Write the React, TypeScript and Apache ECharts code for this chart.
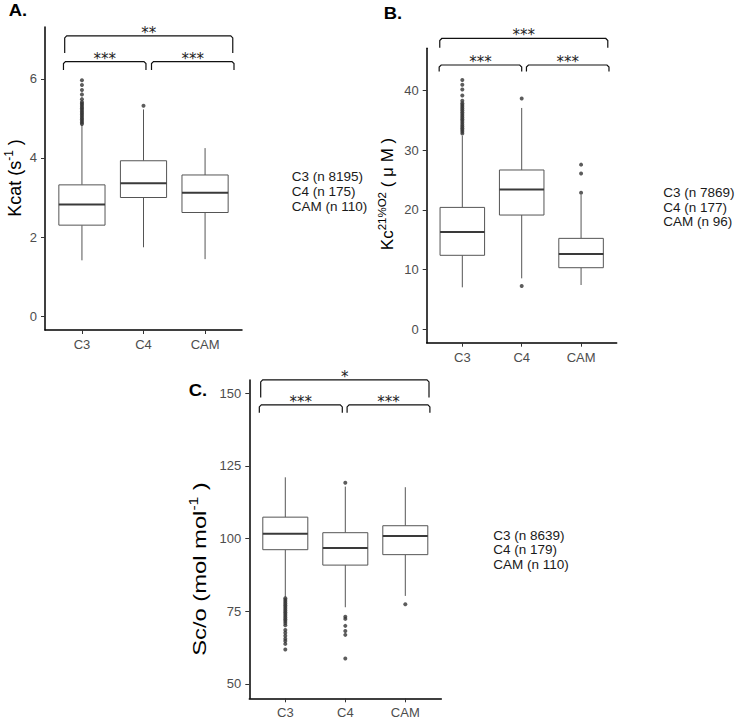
import React, { useEffect, useRef } from 'react';
import * as echarts from 'echarts';

const categories = ['C3', 'C4', 'CAM'];

// box stats: [lower whisker, Q1, median, Q3, upper whisker]
const kcatBoxes = [
  [1.41, 2.30, 2.82, 3.32, 4.84],
  [1.74, 3.00, 3.36, 3.93, 5.23],
  [1.44, 2.62, 3.12, 3.57, 4.25],
];
const kcatOutC3 = [4.86, 4.9, 4.94, 4.98, 5.02, 5.06, 5.1, 5.14, 5.18, 5.22, 5.26, 5.3, 5.34, 5.38, 5.42, 5.49, 5.61, 5.72, 5.85, 5.97];
const kcatOutC4 = [5.32];
const kcatOutCAM: number[] = [];
const kcatTicks = [0, 2, 4, 6];
const kcatLegend = ['C3 (n 8195)', 'C4 (n 175)', 'CAM (n 110)'];
// brackets: [x start, x end, top, tip end]
const kcatBrackets = [
  [0.72, 3.45, 7.09, 6.66],
  [0.70, 2.04, 6.44, 6.23],
  [2.13, 3.47, 6.44, 6.23],
];
const kcatStars = ['**', '***', '***'];

const kcBoxes = [
  [7.03, 12.40, 16.3, 20.43, 32.4],
  [8.54, 19.15, 23.45, 26.7, 37.1],
  [7.42, 10.32, 12.6, 15.24, 22.5],
];
const kcOutC3 = [32.8, 33.1, 33.4, 33.7, 34.0, 34.3, 34.6, 34.9, 35.2, 35.5, 35.8, 36.1, 36.4, 36.7, 37.0, 37.3, 37.6, 37.9, 38.3, 39.2, 40.2, 41.0, 41.8];
const kcOutC4 = [38.7, 7.25];
const kcOutCAM = [22.9, 26.1, 27.6];
const kcTicks = [0, 10, 20, 30, 40];
const kcLegend = ['C3 (n 7869)', 'C4 (n 177)', 'CAM (n 96)'];
const kcBrackets = [
  [0.62, 3.45, 48.75, 47.2],
  [0.61, 2.0, 44.3, 43.2],
  [2.08, 3.47, 44.3, 43.2],
];
const kcStars = ['***', '***', '***'];

const scBoxes = [
  [79.8, 96.2, 101.7, 107.4, 121.1],
  [76.4, 90.9, 96.8, 102.05, 117.9],
  [80.3, 94.5, 100.9, 104.45, 117.7],
];
const scOutC3 = [79.5, 78.9, 78.3, 77.7, 77.1, 76.5, 75.9, 75.3, 74.7, 74.1, 73.5, 72.9, 72.3, 71.7, 71.0, 70.2, 68.6, 67.6, 66.6, 65.6, 64.8, 63.8, 61.9];
const scOutC4 = [119.2, 73.15, 72.4, 70.0, 68.2, 66.9, 58.8];
const scOutCAM = [77.4];
const scTicks = [50, 75, 100, 125, 150];
const scLegend = ['C3 (n 8639)', 'C4 (n 179)', 'CAM (n 110)'];
const scBrackets = [
  [0.59, 3.395, 154.6, 148.6],
  [0.567, 1.95, 146.0, 143.3],
  [2.03, 3.41, 146.0, 143.3],
];
const scStars = ['*', '***', '***'];

const FONT = '"Liberation Sans", Arial, sans-serif';
const BOX_STROKE = '#555';

function boxRenderItem(params: any, api: any) {
  const x = api.value(0);
  const low = api.coord([x, api.value(1)]);
  const q1 = api.coord([x, api.value(2)]);
  const med = api.coord([x, api.value(3)]);
  const q3 = api.coord([x, api.value(4)]);
  const high = api.coord([x, api.value(5)]);
  const hw = api.size([0.75, 0])[0] / 2;
  const cx = med[0];
  const st = { stroke: BOX_STROKE, lineWidth: 1 };
  return {
    type: 'group',
    children: [
      { type: 'line', shape: { x1: cx, y1: high[1], x2: cx, y2: q3[1] }, style: st },
      { type: 'line', shape: { x1: cx, y1: q1[1], x2: cx, y2: low[1] }, style: st },
      { type: 'rect', shape: { x: cx - hw, y: q3[1], width: 2 * hw, height: q1[1] - q3[1] }, style: { fill: '#fff', stroke: BOX_STROKE, lineWidth: 1 } },
      { type: 'line', shape: { x1: cx - hw, y1: med[1], x2: cx + hw, y2: med[1] }, style: { stroke: '#3a3a3a', lineWidth: 2 } },
    ],
  };
}

function bracketRenderer(stars: string[]) {
  return (params: any, api: any) => {
    const x1 = api.value(0);
    const x2 = api.value(1);
    const top = api.value(2);
    const end = api.value(3);
    const a = api.coord([x1, end]);
    const b = api.coord([x1, top]);
    const c = api.coord([x2, top]);
    const d = api.coord([x2, end]);
    const r = 2;
    return {
      type: 'group',
      children: [
        {
          type: 'polyline',
          shape: { points: [a, [b[0], b[1] + r], [b[0] + r, b[1]], [c[0] - r, c[1]], [c[0], c[1] + r], d] },
          style: { stroke: '#111', lineWidth: 1.2, fill: null },
        },
        {
          type: 'text',
          x: (b[0] + c[0]) / 2,
          y: b[1] - 3,
          style: {
            text: stars[params.dataIndex],
            fontFamily: '"DejaVu Sans", sans-serif',
            fontSize: 15,
            fill: '#222',
            align: 'center',
            verticalAlign: 'middle',
          },
        },
      ],
    };
  };
}

function toBoxData(boxes: number[][]) {
  return boxes.map((b, i) => [i + 1, ...b]);
}

function toOutData(c3: number[], c4: number[], cam: number[]) {
  return [
    ...c3.map((v) => [1, v]),
    ...c4.map((v) => [2, v]),
    ...cam.map((v) => [3, v]),
  ];
}

function xAxisFor(i: number) {
  return {
    type: 'value',
    gridIndex: i,
    min: 0.4,
    max: 3.6,
    splitLine: { show: false },
    axisLine: { show: true, onZero: false, lineStyle: { color: '#000', width: 1.5 } },
    axisTick: { show: true, customValues: [1, 2, 3], length: 4, lineStyle: { color: '#333', width: 1 } },
    axisLabel: {
      customValues: [1, 2, 3],
      formatter: (v: number) => categories[Math.round(v) - 1] || '',
      margin: 8,
      color: '#4d4d4d',
      fontSize: 13,
      fontFamily: FONT,
    },
  };
}

function yAxisFor(i: number, min: number, max: number, ticks: number[]) {
  return {
    type: 'value',
    gridIndex: i,
    min,
    max,
    splitLine: { show: false },
    axisLine: { show: true, onZero: false, lineStyle: { color: '#000', width: 1.5 } },
    axisTick: { show: true, customValues: ticks, length: 4, lineStyle: { color: '#333', width: 1 } },
    axisLabel: {
      customValues: ticks,
      margin: 8,
      color: '#4d4d4d',
      fontSize: 13,
      fontFamily: FONT,
    },
  };
}

function panelSeries(i: number, boxes: number[][], outs: number[][], brackets: number[][], stars: string[]) {
  return [
    {
      type: 'custom',
      xAxisIndex: i,
      yAxisIndex: i,
      renderItem: boxRenderItem,
      data: toBoxData(boxes),
      encode: { x: 0, y: [1, 2, 3, 4, 5] },
      clip: false,
      z: 2,
    },
    {
      type: 'scatter',
      xAxisIndex: i,
      yAxisIndex: i,
      data: outs,
      symbol: 'circle',
      symbolSize: 4,
      itemStyle: { color: '#333' },
      z: 3,
    },
    {
      type: 'custom',
      xAxisIndex: i,
      yAxisIndex: i,
      renderItem: bracketRenderer(stars),
      data: brackets,
      encode: { x: [0, 1], y: [2, 3] },
      clip: false,
      z: 4,
    },
  ];
}

function legendTexts(lines: string[], x: number, ys: number[]) {
  return lines.map((t, k) => ({
    type: 'text',
    x,
    y: ys[k],
    style: { text: t, fontFamily: FONT, fontSize: 13.5, fill: '#1a1a1a', align: 'left', verticalAlign: 'middle' },
  }));
}

function titleText(t: string, x: number, y: number) {
  return {
    type: 'text',
    x,
    y,
    scaleX: 1.15,
    style: { text: t, fontFamily: FONT, fontSize: 16, fontWeight: 'bold', fill: '#000', align: 'center', verticalAlign: 'middle' },
  };
}

function axisTitle(t: string, x: number, y: number, size: number, supSize: number, stretch: number) {
  return {
    type: 'text',
    x,
    y,
    rotation: Math.PI / 2,
    scaleX: stretch,
    style: {
      text: t,
      fontFamily: FONT,
      fontSize: size,
      lineHeight: size + 6,
      fill: '#000',
      align: 'center',
      verticalAlign: 'middle',
      rich: {
        sup: { fontFamily: FONT, fontSize: supSize, lineHeight: supSize, verticalAlign: 'top', fill: '#000' },
      },
    },
  };
}

export default function App() {
  const ref = useRef<HTMLDivElement>(null);
  useEffect(() => {
    if (!ref.current) return;
    const chart = echarts.init(ref.current, null, { renderer: 'svg' });
    const option: any = {
      animation: false,
      backgroundColor: '#fff',
      grid: [
        { left: 45, top: 27, width: 197, height: 303, outerBoundsMode: 'none' },
        { left: 426.7, top: 48.3, width: 190, height: 294.4, outerBoundsMode: 'none' },
        { left: 249.3, top: 380, width: 192, height: 318.3, outerBoundsMode: 'none' },
      ],
      xAxis: [xAxisFor(0), xAxisFor(1), xAxisFor(2)],
      yAxis: [
        yAxisFor(0, -0.354, 7.316, kcatTicks),
        yAxisFor(1, -2.25, 47.1, kcTicks),
        yAxisFor(2, 45.08, 154.58, scTicks),
      ],
      series: [
        ...panelSeries(0, kcatBoxes, toOutData(kcatOutC3, kcatOutC4, kcatOutCAM), kcatBrackets, kcatStars),
        ...panelSeries(1, kcBoxes, toOutData(kcOutC3, kcOutC4, kcOutCAM), kcBrackets, kcStars),
        ...panelSeries(2, scBoxes, toOutData(scOutC3, scOutC4, scOutCAM), scBrackets, scStars),
      ],
      graphic: [
        titleText('A.', 18, 10),
        titleText('B.', 393, 13.5),
        titleText('C.', 198, 390),
        axisTitle('Kcat (s{sup|-1} )', 15, 178, 18, 12, 1),
        axisTitle('Kc{sup|21%O2} ( μ M )', 387, 194, 17, 11.5, 1),
        axisTitle('Sc/o (mol mol{sup|-1} )', 200, 569, 19, 12.5, 1.25),
        ...legendTexts(kcatLegend, 291.7, [176.5, 191.8, 206.2]),
        ...legendTexts(kcLegend, 663.3, [192.3, 207, 221.7]),
        ...legendTexts(scLegend, 493.3, [535, 549.5, 564]),
      ],
    };
    chart.setOption(option);
    return () => chart.dispose();
  }, []);
  return (
    <div
      ref={ref}
      style={{ position: 'absolute', left: 0, top: 0, width: 735, height: 719, background: '#fff' }}
    />
  );
}
